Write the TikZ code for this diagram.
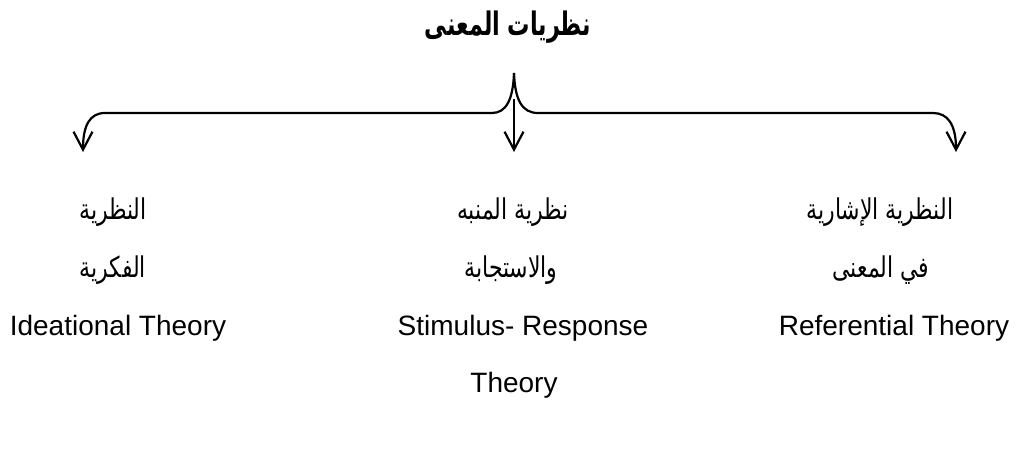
\documentclass[tikz,border=0pt]{standalone}
\usepackage{fontspec}
\setmainfont{Liberation Sans}
\newfontfamily\arabicfont[Script=Arabic]{DejaVu Sans}
\TeXXeTstate=1
\usetikzlibrary{arrows.meta}
\newcommand{\artxt}[1]{\scalebox{1}[1.3]{\beginR #1\endR}}
\newcommand{\arttl}[1]{\scalebox{0.93}[1.35]{\beginR #1\endR}}
\begin{document}
\begin{tikzpicture}[x=1pt,y=-1pt,
  conn/.style={line width=2.2pt},
  arr/.style={conn,-{Straight Barb[length=18pt,width=19pt,line width=2.2pt]}},
  ar/.style={font=\arabicfont\fontsize{22}{26}\selectfont, inner sep=0pt},
  ttl/.style={font=\arabicfont\bfseries\fontsize{24}{28}\selectfont, inner sep=0pt},
  en/.style={font=\fontsize{28}{32}\selectfont, inner sep=0pt}]
\useasboundingbox (0,0) rectangle (1017,450);
\node[ttl] (title) at (508,27) {\arttl{نظريات المعنى}};
\coordinate (apex) at (514,73);
\coordinate (ms) at (514,99);
\coordinate (lt) at (83,152);
\coordinate (mt) at (514,152);
\coordinate (rt) at (956,152);
\draw[arr] (apex) .. controls (513,100) and (506,113) .. (492,113) -- (105,113) .. controls (90,113) and (83,125) .. (lt);
\draw[arr] (apex) .. controls (515,100) and (522,113) .. (538,113) -- (933,113) .. controls (948,113) and (956,125) .. (rt);
\draw[arr] (ms) -- (mt);
\node[ar] (l1) at (113,212) {\artxt{النظرية}};
\node[ar] (m1) at (513,212) {\artxt{نظرية المنبه}};
\node[ar] (r1) at (880,212) {\artxt{النظرية الإشارية}};
\node[ar] (l2) at (113,270) {\artxt{الفكرية}};
\node[ar] (m2) at (511,270) {\artxt{والاستجابة}};
\node[ar] (r2) at (881,270) {\artxt{في المعنى}};
\node[en] (l3) at (118,328) {Ideational Theory};
\node[en] (m3) at (523,328) {Stimulus- Response};
\node[en] (r3) at (894,328) {Referential Theory};
\node[en] (m4) at (514,385) {Theory};
\end{tikzpicture}
\end{document}
